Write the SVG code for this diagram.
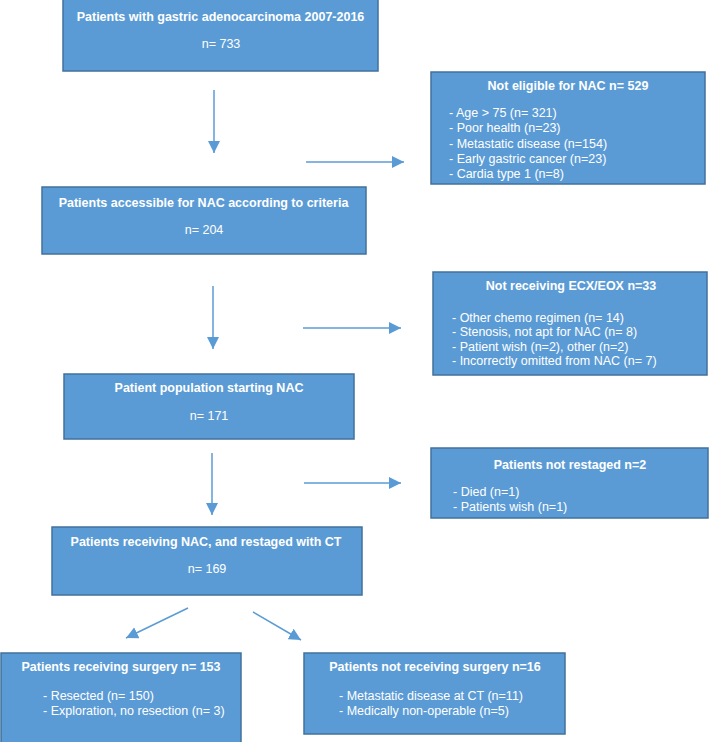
<svg xmlns="http://www.w3.org/2000/svg" width="710" height="742" viewBox="0 0 710 742">
<style>
.box{fill:#5B9BD5;stroke:#41719C;stroke-width:1.5}
.t{font-family:"Liberation Sans",Arial,sans-serif;font-size:12.5px;fill:#FFFFFF}
.b{font-weight:bold;text-anchor:middle}
.c{text-anchor:middle}
.con{stroke:#5B9BD5;stroke-width:1.5;fill:none;marker-end:url(#ah)}
</style>
<defs>
<marker id="ah" markerUnits="userSpaceOnUse" markerWidth="12" markerHeight="12" refX="10" refY="5" orient="auto" viewBox="0 0 10 10">
<path d="M0,0 L10,5 L0,10 Z" fill="#5B9BD5"/>
</marker>
</defs>
<rect width="710" height="742" fill="#FFFFFF"/>
<g id="connectors">
<line class="con" x1="214" y1="90" x2="214" y2="153"/>
<line class="con" x1="306" y1="162" x2="404" y2="162"/>
<line class="con" x1="213" y1="286" x2="213" y2="349"/>
<line class="con" x1="303" y1="328" x2="401" y2="328"/>
<line class="con" x1="212" y1="453" x2="212" y2="515"/>
<line class="con" x1="304" y1="483" x2="401" y2="483"/>
<line class="con" x1="188" y1="608" x2="126" y2="638"/>
<line class="con" x1="253" y1="612" x2="301" y2="640"/>
</g>
<g id="n1">
<rect class="box" x="63" y="-1" width="315" height="72"/>
<text class="t b" x="220.5" y="21">Patients with gastric adenocarcinoma 2007-2016</text>
<text class="t c" x="221" y="48">n= 733</text>
</g>
<g id="n2">
<rect class="box" x="431" y="72" width="274" height="112"/>
<text class="t b" x="568" y="89.5">Not eligible for NAC n= 529</text>
<text class="t" x="449" y="117">- Age &gt; 75 (n= 321)</text>
<text class="t" x="449" y="132.3">- Poor health (n=23)</text>
<text class="t" x="449" y="147.6">- Metastatic disease (n=154)</text>
<text class="t" x="449" y="162.9">- Early gastric cancer (n=23)</text>
<text class="t" x="449" y="178.2">- Cardia type 1 (n=8)</text>
</g>
<g id="n3">
<rect class="box" x="42" y="187" width="324" height="67"/>
<text class="t b" x="203.5" y="207">Patients accessible for NAC according to criteria</text>
<text class="t c" x="204" y="233.5">n= 204</text>
</g>
<g id="n4">
<rect class="box" x="433" y="272" width="274" height="103"/>
<text class="t b" x="571" y="290">Not receiving ECX/EOX n=33</text>
<text class="t" x="452" y="322">- Other chemo regimen (n= 14)</text>
<text class="t" x="452" y="336.3">- Stenosis, not apt for NAC (n= 8)</text>
<text class="t" x="452" y="350.6">- Patient wish (n=2), other (n=2)</text>
<text class="t" x="452" y="364.9">- Incorrectly omitted from NAC (n= 7)</text>
</g>
<g id="n5">
<rect class="box" x="64" y="374" width="290" height="65"/>
<text class="t b" x="209" y="392">Patient population starting NAC</text>
<text class="t c" x="209" y="419.5">n= 171</text>
</g>
<g id="n6">
<rect class="box" x="431" y="448" width="277" height="70"/>
<text class="t b" x="570" y="469">Patients not restaged n=2</text>
<text class="t" x="453" y="495.5">- Died (n=1)</text>
<text class="t" x="453" y="510.5">- Patients wish (n=1)</text>
</g>
<g id="n7">
<rect class="box" x="52" y="527" width="310" height="68"/>
<text class="t b" x="206" y="546">Patients receiving NAC, and restaged with CT</text>
<text class="t c" x="207" y="572.5">n= 169</text>
</g>
<g id="n8">
<rect class="box" x="1" y="653" width="240" height="92"/>
<text class="t b" x="121" y="670.5">Patients receiving surgery n= 153</text>
<text class="t" x="43" y="700">- Resected (n= 150)</text>
<text class="t" x="43" y="715">- Exploration, no resection (n= 3)</text>
</g>
<g id="n9">
<rect class="box" x="304" y="653" width="261" height="81"/>
<text class="t b" x="435" y="670.5">Patients not receiving surgery n=16</text>
<text class="t" x="339" y="700">- Metastatic disease at CT (n=11)</text>
<text class="t" x="339" y="715">- Medically non-operable (n=5)</text>
</g>
</svg>
